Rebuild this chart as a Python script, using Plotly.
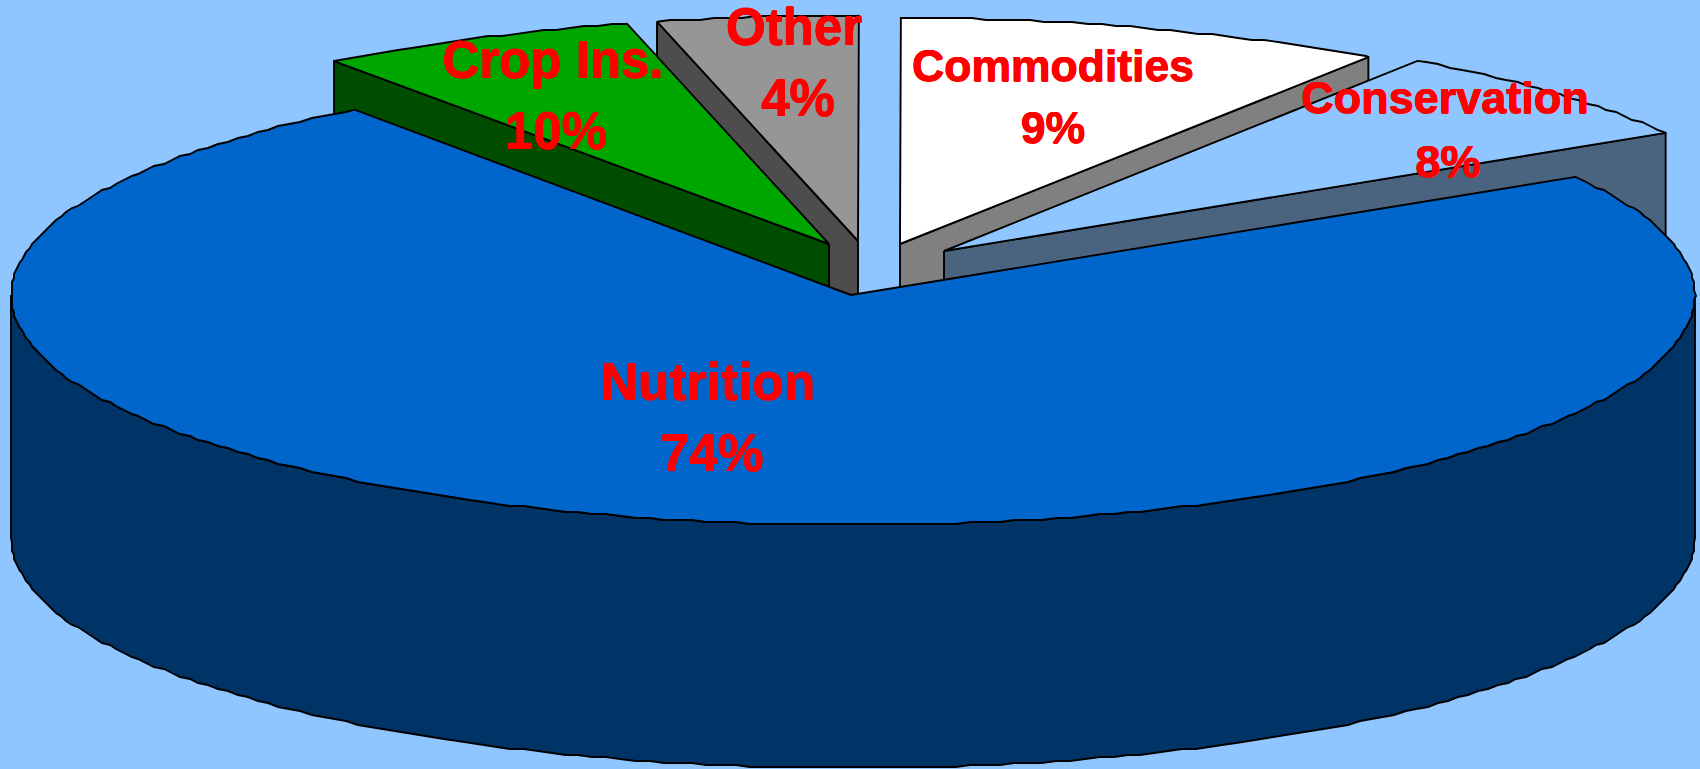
import numpy as np
import plotly.graph_objects as go

# ---- data ----
categories = ["Conservation", "Commodities", "Other", "Crop Ins.", "Nutrition"]
drawn_shares = [6.9, 9.5, 3.9, 6.2, 73.5]      # angular share of each slice as drawn
label_percents = ["8%", "9%", "4%", "10%", "74%"]  # printed labels

# ---- geometry / style ----
W, H = 1700, 769
START_DEG = 30.9
DEPTH = 243
BG = "#8FC6FF"
TOP_COL = ["#8FC6FF", "#FFFFFF", "#969696", "#00A600", "#0066CC"]
WALL_COL = ["#4A6480", "#808080", "#4D4D4D", "#004D00", "#003366"]
APEX = [(944, 251), (900, 244), (858, 241), (829, 244), (853, 295)]
RADII = [(841, 230), (832, 226), (832, 226), (836, 227), (842, 230)]
TIP_SHIFT = [0, 0, 0, 0, -2]
WALL_ANGLE_END = [0, 0, 1, 1, None]   # 0: wall below first edge, 1: below last edge
DRAW_ORDER = [2, 3, 1, 0, 4]
LABEL_POS = [((1445, 97), (1448, 161)), ((1053, 65), (1053, 127)),
             ((794, 27), (798, 98)), ((553, 60), (556, 131)), ((708, 382), (712, 453))]
LABEL_SIZE = [45, 44.5, 51, 51, 51.5]
TEXT_DY = 5
GRID = 2.0
STEP_DEG = 1.0
LINE_W = 1.9
THICK = "0.4px 0 0 #f00, -0.4px 0 0 #f00, 0 0.4px 0 #f00, 0 -0.4px 0 #f00"


def rim(cx, cy, rx, ry, a0, a1):
    # sample on a fixed angular grid, so shared rims coincide exactly
    inner = np.arange(np.ceil(a0 / STEP_DEG), np.floor(a1 / STEP_DEG) + 1) * STEP_DEG
    inner = inner[(inner > a0) & (inner < a1)]
    t = np.radians(np.r_[a0, inner, a1])
    x = cx + rx * np.cos(t)
    y = cy - ry * np.sin(t)
    # the source chart has a coarse, stepped outline
    x[1:-1] = np.round(x[1:-1] / GRID) * GRID
    y[1:-1] = np.round(y[1:-1] / GRID) * GRID
    return x, y


def poly(fig, x, y, fill):
    fig.add_trace(go.Scatter(
        x=list(x) + [x[0]], y=list(y) + [y[0]], mode="lines", fill="toself",
        fillcolor=fill, line=dict(color="black", width=LINE_W),
        hoverinfo="skip", showlegend=False))


angles = START_DEG + np.concatenate([[0], np.cumsum(drawn_shares)]) * 3.6
fig = go.Figure()

for i in DRAW_ORDER:
    a0, a1 = angles[i], angles[i + 1]
    cx, cy = APEX[i]
    rx, ry = RADII[i]
    if WALL_ANGLE_END[i] is None:
        # curved front wall: lower half of the rim
        xr, yr = rim(cx, cy, rx, ry, 180, 360)
        poly(fig, np.r_[xr, xr[::-1]], np.r_[yr, yr[::-1] + DEPTH], WALL_COL[i])
    else:
        # straight cut wall under the edge that faces the viewer
        a = a1 if WALL_ANGLE_END[i] else a0
        ox = cx + rx * np.cos(np.radians(a))
        oy = cy - ry * np.sin(np.radians(a))
        poly(fig, [cx, ox, ox, cx], [cy, oy, oy + DEPTH, cy + DEPTH], WALL_COL[i])
    xr, yr = rim(cx, cy, rx, ry, a0, a1)
    poly(fig, np.r_[cx + TIP_SHIFT[i], xr], np.r_[cy, yr], TOP_COL[i])

for i, cat in enumerate(categories):
    for txt, (tx, ty) in zip([cat, label_percents[i]], LABEL_POS[i]):
        fig.add_trace(go.Scatter(
            x=[tx], y=[ty + TEXT_DY], mode="text", text=[txt], textposition="middle center",
            textfont=dict(family="Liberation Sans", size=LABEL_SIZE[i], color="#FF0000",
                          weight="bold", shadow=THICK),
            hoverinfo="skip", showlegend=False, cliponaxis=False))

axis = dict(visible=False, fixedrange=True)
fig.update_layout(
    width=W, height=H, margin=dict(l=0, r=0, t=0, b=0),
    paper_bgcolor=BG, plot_bgcolor=BG, showlegend=False,
    xaxis=dict(range=[0, W], **axis),
    yaxis=dict(range=[H, 0], **axis),
)
fig.write_html("out.html", config=dict(displayModeBar=False),
               post_script="document.body.style.margin='0';document.body.style.overflow='hidden';document.body.style.background='%s';" % BG)
